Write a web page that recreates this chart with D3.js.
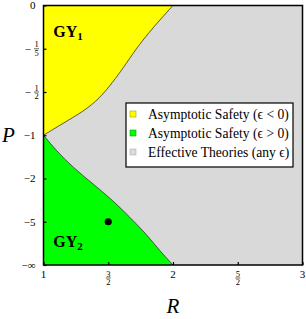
<!DOCTYPE html>
<html>
<head>
<meta charset="utf-8">
<script src="https://cdn.jsdelivr.net/npm/d3@7"></script>
<style>
  body { margin: 0; background: #fff; }
  text { font-family: "Liberation Serif", "DejaVu Serif", serif; }
</style>
</head>
<body>
<svg id="chart"></svg>
<script>
// axis ticks
var xTicks = [1, 1.5, 2, 2.5, 3];
var xTickLabels = ["1", "3/2", "2", "5/2", "3"];
var yTicks = [0, -1/5, -1/2, -1, -2, -5, -Infinity];
var yTickLabels = ["0", "\u22121/5", "\u22121/2", "\u22121", "\u22122", "\u22125", "\u2212\u221e"];

// boundary of the yellow region (epsilon < 0)
var gy1R = [1, 1.151, 1.305, 1.434, 1.537, 1.614, 1.717, 1.82, 1.91, 2];
var gy1P = [-1, -0.831, -0.693, -0.557, -0.416, -0.319, -0.198, -0.112, -0.052, 0];

// boundary of the green region (epsilon > 0)
var gy2R = [1, 1.099, 1.228, 1.382, 1.537, 1.666, 1.794, 1.897, 2];
var gy2P = [-1, -1.27, -1.66, -2.2, -3.03, -4.43, -7.38, -17.2, -Infinity];

// marked point
var pointR = [1.5];
var pointP = [-5];

var legendLabels = ["Asymptotic Safety (\u03f5 < 0)", "Asymptotic Safety (\u03f5 > 0)", "Effective Theories (any \u03f5)"];
var legendColors = ["#ffff00", "#00ff00", "#d9d9d9"];
var legendStrokes = ["#a0a000", "#00a000", "#b0b0b0"];

var width = 306, height = 319;
var pLeft = 43.5, pRight = 302.5, pTop = 5.5, pBottom = 265;

var svg = d3.select("#chart").attr("width", width).attr("height", height);

// compactified P axis: t = P / (P - 1), so -inf -> 1
function tOf(p) { return p === -Infinity ? 1 : p / (p - 1); }

var x = d3.scaleLinear().domain([1, 3]).range([pLeft, pRight]);
var yT = d3.scaleLinear().domain([0, 1]).range([pTop, pBottom]);
var y = function(p) { return yT(tOf(p)); };

// background: effective theories everywhere
svg.append("rect")
    .attr("x", pLeft).attr("y", pTop)
    .attr("width", pRight - pLeft).attr("height", pBottom - pTop)
    .attr("fill", legendColors[2]);

var gy1 = gy1R.map((r, i) => [r, gy1P[i]]);
var gy2 = gy2R.map((r, i) => [r, gy2P[i]]);

var areaTop = d3.area()
    .x(d => x(d[0])).y0(pTop).y1(d => y(d[1]))
    .curve(d3.curveBasis);
var areaBottom = d3.area()
    .x(d => x(d[0])).y0(pBottom).y1(d => y(d[1]))
    .curve(d3.curveBasis);
var line = d3.line()
    .x(d => x(d[0])).y(d => y(d[1]))
    .curve(d3.curveBasis);

svg.append("path").attr("d", areaTop(gy1)).attr("fill", legendColors[0]);
svg.append("path").attr("d", areaBottom(gy2)).attr("fill", legendColors[1]);

[gy1, gy2].forEach(b => {
  svg.append("path")
      .attr("d", line(b))
      .attr("fill", "none")
      .attr("stroke", "#333")
      .attr("stroke-width", 0.8);
});

svg.selectAll(".pt")
  .data(pointR)
  .enter()
  .append("circle")
    .attr("cx", d => x(d))
    .attr("cy", (d, i) => y(pointP[i]))
    .attr("r", 3.6)
    .attr("fill", "#000");

// region labels
function gyLabel(r, p, sub) {
  var t = svg.append("text")
      .attr("x", x(r)).attr("y", y(p))
      .attr("font-weight", "bold")
      .attr("font-size", 16)
      .text("GY");
  t.append("tspan")
      .attr("font-size", 11)
      .attr("dy", 3)
      .text(sub);
}
gyLabel(1.075, -0.136, "1");
gyLabel(1.075, -13.7, "2");

// axes with inward ticks
svg.append("g")
    .attr("transform", `translate(0,${pBottom})`)
    .call(d3.axisBottom(x).tickValues(xTicks).tickSize(-3).tickFormat(""))
    .call(g => g.select(".domain").remove());

svg.append("g")
    .attr("transform", `translate(${pLeft},0)`)
    .call(d3.axisLeft(yT).tickValues(yTicks.map(tOf)).tickSize(-3).tickFormat(""))
    .call(g => g.select(".domain").remove());

svg.selectAll(".tick line").attr("stroke", "#000").attr("stroke-width", 1.2);

svg.append("rect")
    .attr("x", pLeft).attr("y", pTop)
    .attr("width", pRight - pLeft).attr("height", pBottom - pTop)
    .attr("fill", "none")
    .attr("stroke", "#000")
    .attr("stroke-width", 1.5);

// tick labels, fractions stacked
function fracLabel(g, label, cx, cy, anchor) {
  var sign = "";
  if (label[0] === "\u2212") { sign = "\u2212"; label = label.slice(1); }
  if (label.indexOf("/") < 0) {
    g.append("text")
        .attr("x", cx).attr("y", cy).attr("dy", "0.35em")
        .attr("text-anchor", anchor)
        .attr("font-size", 11)
        .text(sign + label);
    return;
  }
  var parts = label.split("/");
  var fx = cx;
  g.append("text").attr("x", fx).attr("y", cy - 1.3)
      .attr("text-anchor", "middle").attr("font-size", 8.5).text(parts[0]);
  g.append("line")
      .attr("x1", fx - 2.5).attr("x2", fx + 2.5)
      .attr("y1", cy).attr("y2", cy)
      .attr("stroke", "#000").attr("stroke-width", 0.6);
  g.append("text").attr("x", fx).attr("y", cy + 7.3)
      .attr("text-anchor", "middle").attr("font-size", 8.5).text(parts[1]);
  if (sign) {
    g.append("text").attr("x", fx - 5.5).attr("y", cy).attr("dy", "0.35em")
        .attr("text-anchor", "end").attr("font-size", 11).text(sign);
  }
}

var labels = svg.append("g");
yTicks.forEach((p, i) => {
  if (yTickLabels[i].indexOf("/") < 0) fracLabel(labels, yTickLabels[i], pLeft - 8, y(p), "end");
  else fracLabel(labels, yTickLabels[i], pLeft - 7, y(p), "end");
});
xTicks.forEach((r, i) => {
  if (xTickLabels[i].indexOf("/") < 0) fracLabel(labels, xTickLabels[i], x(r), pBottom + 9, "middle");
  else fracLabel(labels, xTickLabels[i], x(r), pBottom + 13, "middle");
});

// axis titles
svg.append("text")
    .attr("x", 2).attr("y", 142)
    .attr("font-size", 21).attr("font-style", "italic")
    .text("P");
svg.append("text")
    .attr("x", x(2)).attr("y", 313)
    .attr("text-anchor", "middle")
    .attr("font-size", 21).attr("font-style", "italic")
    .text("R");

// legend
var legend = svg.append("g");
legend.append("rect")
    .attr("x", 126).attr("y", 103)
    .attr("width", 167).attr("height", 64)
    .attr("fill", "#fff")
    .attr("stroke", "#000")
    .attr("stroke-width", 1.2);

legendLabels.forEach((lab, i) => {
  var cy = 114 + i * 19;
  legend.append("rect")
      .attr("x", 130).attr("y", cy - 3)
      .attr("width", 6).attr("height", 6)
      .attr("fill", legendColors[i])
      .attr("stroke", legendStrokes[i])
      .attr("stroke-width", 0.6);
  legend.append("text")
      .attr("x", 148).attr("y", cy).attr("dy", "0.35em")
      .attr("font-size", 13.6)
      .text(lab);
});
</script>
</body>
</html>
